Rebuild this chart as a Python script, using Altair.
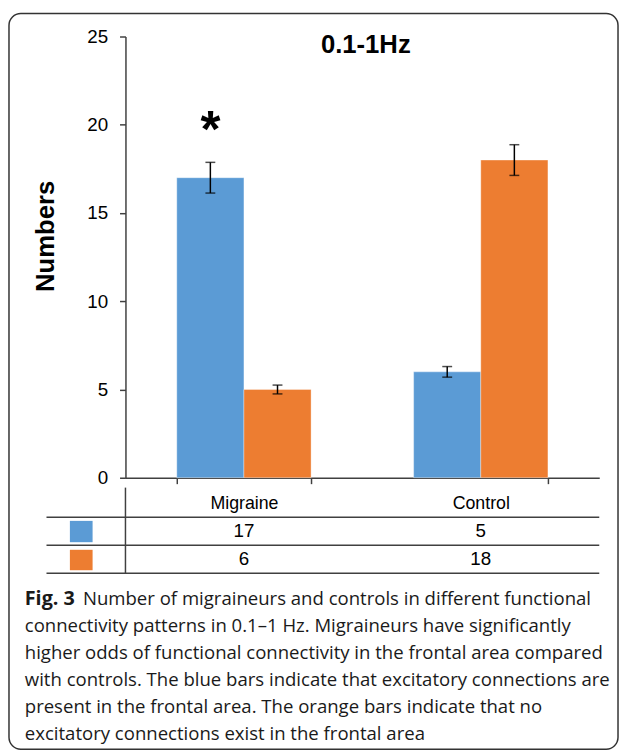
import altair as alt
import pandas as pd

# ---------------- data ----------------
categories = ["Migraine", "Control"]
series = ["Excitatory present", "No excitatory"]
blue_values = [17, 6]
orange_values = [5, 18]
blue_err = [0.87, 0.3]
orange_err = [0.25, 0.87]
table_blue = ["17", "5"]
table_orange = ["6", "18"]
y_ticks = [0, 5, 10, 15, 20, 25]
star_level = [20]
title_text = "0.1-1Hz"
y_title = "Numbers"
caption_bold = "Fig. 3"
caption_line1 = "Number of migraineurs and controls in different functional"
caption_rest = [
    "connectivity patterns in 0.1\u20131 Hz. Migraineurs have significantly",
    "higher odds of functional connectivity in the frontal area compared",
    "with controls. The blue bars indicate that excitatory connections are",
    "present in the frontal area. The orange bars indicate that no",
    "excitatory connections exist in the frontal area",
]
colors = ["#5B9BD5", "#ED7D31"]

rows = []
for i, c in enumerate(categories):
    rows.append({"Category": c, "Series": series[0], "Value": blue_values[i],
                 "Lo": blue_values[i] - blue_err[i], "Hi": blue_values[i] + blue_err[i]})
    rows.append({"Category": c, "Series": series[1], "Value": orange_values[i],
                 "Lo": orange_values[i] - orange_err[i], "Hi": orange_values[i] + orange_err[i]})
df = pd.DataFrame(rows)

star_df = pd.DataFrame({"Category": [categories[0]], "Series": [series[0]], "Level": star_level})
tab_blue_df = pd.DataFrame({"Category": categories, "Text": table_blue})
tab_orange_df = pd.DataFrame({"Category": categories, "Text": table_orange})
one = pd.DataFrame({"a": [0]})

AX = "#404040"
FONT = "Liberation Sans"

x_axis = alt.Axis(title=None, labelAngle=0, domainColor=AX, domainWidth=1.5,
                  tickColor=AX, tickWidth=1.5, tickSize=6, tickBand="extent",
                  labelFont=FONT, labelFontSize=18, labelColor="black",
                  labelPadding=20, labelBaseline="middle", grid=False)
y_axis = alt.Axis(values=y_ticks, grid=False, domainColor=AX, domainWidth=1.5,
                  tickColor=AX, tickWidth=1.5, tickSize=6,
                  labelFont=FONT, labelFontSize=19, labelColor="black", labelPadding=12,
                  title=y_title, titleFont=FONT, titleFontSize=26, titleFontWeight="bold",
                  titleColor="black", titleAngle=270, titleX=-81, titleY=202,
                  titleAlign="center", titleBaseline="middle")
x_scale = alt.Scale(domain=categories, paddingInner=0.433, paddingOuter=0.2167)
y_scale = alt.Scale(domain=[0, 25], nice=False)

x_enc = alt.X("Category:N", sort=categories, scale=x_scale, axis=x_axis)
xo_enc = alt.XOffset("Series:N", sort=series,
                     scale=alt.Scale(domain=series, paddingInner=0, paddingOuter=0))
color_enc = alt.Color("Series:N", scale=alt.Scale(domain=series, range=colors), legend=None)


def yq(field):
    return alt.Y(field, scale=y_scale, axis=y_axis)


bars = alt.Chart(df).mark_bar(strokeWidth=1, strokeOpacity=0.35, stroke="white").encode(
    x=x_enc, xOffset=xo_enc, y=yq("Value:Q"), color=color_enc)

err = alt.Chart(df).mark_rule(color="black", strokeWidth=1.5).encode(
    x=x_enc, xOffset=xo_enc, y=yq("Lo:Q"), y2="Hi:Q")
cap_lo = alt.Chart(df).mark_tick(color="black", size=10, thickness=1.5).encode(
    x=x_enc, xOffset=xo_enc, y=yq("Lo:Q"))
cap_hi = alt.Chart(df).mark_tick(color="black", size=10, thickness=1.5).encode(
    x=x_enc, xOffset=xo_enc, y=yq("Hi:Q"))

star = alt.Chart(star_df).mark_text(text="*", font=FONT, fontSize=52, fontWeight="bold",
                                    baseline="alphabetic", dy=23, color="black").encode(
    x=x_enc, xOffset=xo_enc, y=yq("Level:Q"))

title = alt.Chart(one).mark_text(text=title_text, font=FONT, fontSize=26, fontWeight="bold",
                                 baseline="alphabetic", align="center", color="black").encode(
    x=alt.value(243.5), y=alt.value(17))


# data table below the axis
def hline(yv):
    return alt.Chart(one).mark_rule(color=AX, strokeWidth=1.5).encode(
        x=alt.value(-80), x2=alt.value(480), y=alt.value(yv))


vline = alt.Chart(one).mark_rule(color=AX, strokeWidth=1.5).encode(
    x=alt.value(0), y=alt.value(457), y2=alt.value(544))

sw_df = pd.DataFrame({"Series": series})
sw_blue = alt.Chart(sw_df).transform_filter(alt.datum.Series == series[0]).mark_rect().encode(
    x=alt.value(-56.3), x2=alt.value(-33.3), y=alt.value(490.7), y2=alt.value(512.3), color=color_enc)
sw_orange = alt.Chart(sw_df).transform_filter(alt.datum.Series == series[1]).mark_rect().encode(
    x=alt.value(-56.3), x2=alt.value(-33.3), y=alt.value(520), y2=alt.value(540.7), color=color_enc)

t_blue = alt.Chart(tab_blue_df).mark_text(font=FONT, fontSize=19, color="black", baseline="middle").encode(
    x=x_enc, y=alt.value(501.5), text="Text:N")
t_orange = alt.Chart(tab_orange_df).mark_text(font=FONT, fontSize=19, color="black", baseline="middle").encode(
    x=x_enc, y=alt.value(529.5), text="Text:N")

# caption
CAP = "Open Sans"
CS = 18.8
cap_b = alt.Chart(one).mark_text(text=caption_bold, font=CAP, fontSize=20, fontWeight="bold",
                                 align="left", baseline="alphabetic", color="#1a1a1a").encode(
    x=alt.value(-102), y=alt.value(576.3))
cap_1 = alt.Chart(one).mark_text(text=caption_line1, font=CAP, fontSize=CS,
                                 align="left", baseline="alphabetic", color="#1a1a1a").encode(
    x=alt.value(-43), y=alt.value(576.3))
cap_r = alt.Chart(one).mark_text(text=caption_rest, font=CAP, fontSize=CS, lineHeight=27.2,
                                 align="left", baseline="alphabetic", color="#1a1a1a").encode(
    x=alt.value(-102), y=alt.value(603.7))

border = alt.Chart(one).mark_rect(cornerRadius=12, fillOpacity=0, stroke="#333333",
                                  strokeWidth=1.5).encode(
    x=alt.value(-118), x2=alt.value(499), y=alt.value(-23.25), y2=alt.value(722))

chart = alt.layer(
    border, bars, err, cap_lo, cap_hi, star, title,
    hline(487), hline(515.3), hline(543.7), vline,
    sw_blue, sw_orange, t_blue, t_orange,
    cap_b, cap_1, cap_r,
).properties(
    width=480, height=447,
    padding={"left": 119, "top": 24, "right": 20, "bottom": 276},
    autosize=alt.AutoSizeParams(type="none"),
    background="white",
).configure_view(stroke=None)

chart.save("out.html", embed_options={"renderer": "svg", "actions": False})
